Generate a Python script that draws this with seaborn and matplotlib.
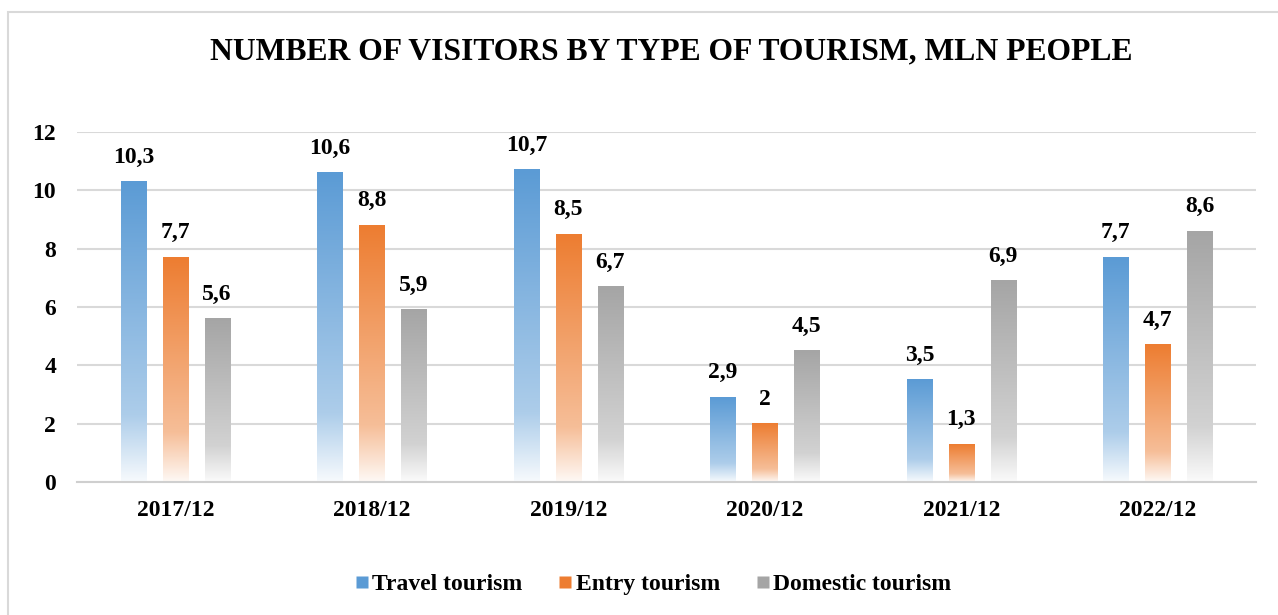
import numpy as np
import pandas as pd
import seaborn as sns
import matplotlib.pyplot as plt
from matplotlib.colors import to_rgb
from matplotlib.lines import Line2D
from matplotlib.patches import Rectangle

periods = ["2017/12", "2018/12", "2019/12", "2020/12", "2021/12", "2022/12"]
travel = [10.3, 10.6, 10.7, 2.9, 3.5, 7.7]
entry = [7.7, 8.8, 8.5, 2.0, 1.3, 4.7]
domestic = [5.6, 5.9, 6.7, 4.5, 6.9, 8.6]
series = ["Travel tourism", "Entry tourism", "Domestic tourism"]
colors = ["#5B9BD5", "#ED7D31", "#A5A5A5"]

df = pd.DataFrame({
    "period": periods * 3,
    "type": [series[0]] * 6 + [series[1]] * 6 + [series[2]] * 6,
    "value": travel + entry + domestic,
})

sns.set_style("white")
plt.rcParams["font.family"] = ["Liberation Serif", "DejaVu Serif"]
plt.rcParams["font.weight"] = "bold"
plt.rcParams["text.color"] = "black"
plt.rcParams["xtick.color"] = "black"
plt.rcParams["ytick.color"] = "black"

fig = plt.figure(figsize=(12.78, 6.15), dpi=100)
ax = fig.add_axes([77 / 1278, 133 / 615, 1179 / 1278, 350 / 615])

sns.barplot(data=df, x="period", y="value", hue="type", palette=colors,
            width=0.64, gap=0.4, legend=False, ax=ax)


def gradient(color, n=200):
    c = np.array(to_rgb(color))
    w = np.ones(3)
    t = np.linspace(0, 1, n)[:, None]  # 0 = top, 1 = bottom
    mix = np.where(t < 0.78, 0.5 * t / 0.78, 0.5 + 0.45 * (t - 0.78) / 0.22)
    rgb = c * (1 - mix) + w * mix
    return rgb[:, None, :]


for cont, col in zip(ax.containers, colors):
    img = gradient(col)
    for bar, val in zip(cont, cont.datavalues):
        x0 = bar.get_x()
        x1 = x0 + bar.get_width()
        ax.imshow(img, extent=[x0, x1, 0, bar.get_height()], aspect="auto",
                  origin="upper", zorder=2, interpolation="bilinear")
        bar.set_facecolor("none")
        bar.set_edgecolor("none")
        txt = f"{val:g}".replace(".", ",")
        ax.text(x0 + bar.get_width() / 2, val + 0.48, txt, ha="center",
                va="bottom", fontsize=17, fontweight="bold")

ax.set_xlim(-0.5, 5.5)
ax.set_ylim(0, 12)
ax.set_yticks(range(0, 13, 2))
ax.yaxis.grid(True, color="#d9d9d9", linewidth=1.5)
ax.set_axisbelow(True)
for s in ["left", "right", "top"]:
    ax.spines[s].set_visible(False)
ax.spines["bottom"].set_color("#cfcfcf")
ax.spines["bottom"].set_linewidth(1.5)
ax.tick_params(axis="both", length=0, labelsize=17)
ax.tick_params(axis="x", pad=13)
ax.tick_params(axis="y", pad=15)
for lab in ax.get_xticklabels() + ax.get_yticklabels():
    lab.set_fontweight("bold")
ax.set_xlabel("")
ax.set_ylabel("")

fig.text(0.525, 0.916, "NUMBER OF VISITORS BY TYPE OF TOURISM, MLN PEOPLE",
         ha="center", va="center", fontsize=22.8, fontweight="bold")

handles = [Line2D([], [], marker="s", linestyle="", markersize=8.6,
                  markerfacecolor=c, markeredgecolor="none") for c in colors]
fig.legend(handles, series, loc="center", bbox_to_anchor=(0.510, 0.050),
           ncol=3, frameon=False, handlelength=0.8, handletextpad=0.05,
           columnspacing=1.4, prop={"weight": "bold", "size": 17})

fig.patches.append(Rectangle((8 / 1278, -0.1), 1.2, (615 - 12) / 615 + 0.1,
                             transform=fig.transFigure, fill=False,
                             edgecolor="#d9d9d9", linewidth=1.5))

fig.savefig("out.png", dpi=100)
